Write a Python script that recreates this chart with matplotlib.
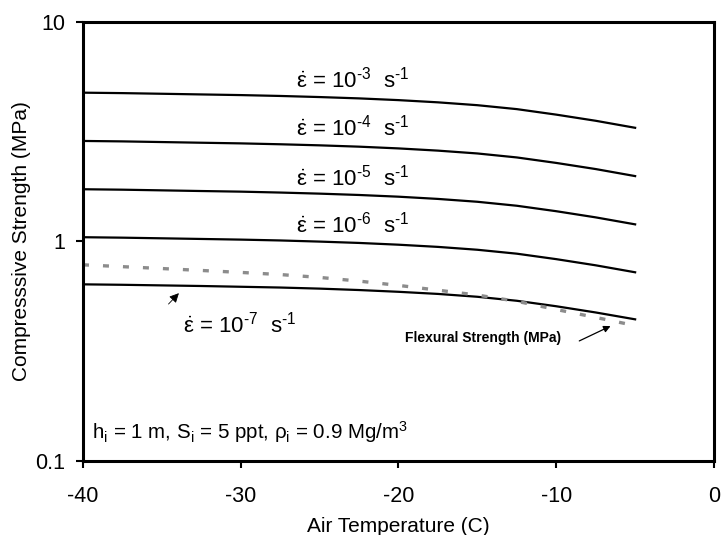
import matplotlib
matplotlib.use("Agg")
import matplotlib.pyplot as plt

plt.rcParams["font.family"] = "Liberation Sans"
plt.rcParams["mathtext.fontset"] = "custom"
plt.rcParams["mathtext.rm"] = "Liberation Sans"
plt.rcParams["mathtext.it"] = "Liberation Sans"
plt.rcParams["mathtext.bf"] = "Liberation Sans:bold"
plt.rcParams["axes.unicode_minus"] = False

# ---------------------------------------------------------------------------
# Data
# ---------------------------------------------------------------------------
temps = [-40, -37.5, -35, -32.5, -30, -27.5, -25, -22.5, -20, -17.5, -15,
         -12.5, -10, -7.5, -5]
strength_1e3 = [4.764, 4.742, 4.710, 4.677, 4.645, 4.603, 4.550, 4.487,
                4.406, 4.305, 4.178, 4.009, 3.784, 3.548, 3.296]
strength_1e4 = [2.871, 2.858, 2.838, 2.818, 2.799, 2.773, 2.742, 2.704,
                2.655, 2.594, 2.518, 2.415, 2.280, 2.138, 1.986]
strength_1e5 = [1.730, 1.722, 1.710, 1.698, 1.687, 1.671, 1.652, 1.629,
                1.600, 1.563, 1.517, 1.455, 1.374, 1.288, 1.197]
strength_1e6 = [1.046, 1.041, 1.034, 1.027, 1.020, 1.011, 0.999, 0.985,
                0.967, 0.945, 0.917, 0.880, 0.831, 0.779, 0.724]
strength_1e7 = [0.638, 0.635, 0.631, 0.627, 0.622, 0.617, 0.610, 0.601,
                0.590, 0.577, 0.560, 0.537, 0.507, 0.475, 0.442]

flex_temps = [-40, -37.5, -35, -32.5, -30, -27.5, -25, -22.5, -20, -17.5,
              -15, -12.5, -10, -7.5, -5.5]
flex_strength = [0.783, 0.768, 0.753, 0.738, 0.723, 0.707, 0.686, 0.660,
                 0.631, 0.600, 0.570, 0.534, 0.490, 0.451, 0.421]

rate_exps = [-3, -4, -5, -6]
rate_curves = [strength_1e3, strength_1e4, strength_1e5, strength_1e6]
rate_label_y = [5.45, 3.29, 1.95, 1.20]

x_ticks = [-40, -30, -20, -10, 0]
y_ticks = [0.1, 1, 10]
y_tick_labels = ["0.1", "1", "10"]


def rate_label(exp):
    return r"$\dot{\varepsilon}$ = 10$^{\text{%d}}$  s$^{\text{-1}}$" % exp


fig = plt.figure(figsize=(7.21, 5.35), dpi=100)
ax = fig.add_axes([0.1151, 0.1383, 0.8752, 0.8206])

for curve in rate_curves:
    ax.plot(temps, curve, color="black", linewidth=1.6)
ax.plot(temps, strength_1e7, color="black", linewidth=1.6)
ax.plot(flex_temps, flex_strength, color="#8c8c8c", linewidth=2.4,
        linestyle=(0, (1.8, 4.2)))

ax.set_yscale("log")
ax.set_xlim(-40, 0)
ax.set_ylim(0.1, 10)
ax.set_xticks(x_ticks)
ax.set_xticklabels([str(t) for t in x_ticks])
ax.set_yticks(y_ticks)
ax.set_yticklabels(y_tick_labels)
ax.yaxis.set_minor_locator(matplotlib.ticker.NullLocator())
ax.tick_params(axis="both", direction="out", length=5, width=1.5,
               labelsize=15.5)
ax.tick_params(axis="x", pad=13)
ax.tick_params(axis="y", pad=8)
for sp in ax.spines.values():
    sp.set_linewidth(2.2)

ax.set_xlabel("Air Temperature (C)", fontsize=15, labelpad=7)
ax.set_ylabel("Compresssive Strength (MPa)", fontsize=15, labelpad=3)

# strain-rate labels
for exp, ly in zip(rate_exps, rate_label_y):
    ax.text(-22.9, ly, rate_label(exp), ha="center", va="center", fontsize=16)

ax.text(-30.1, 0.417, rate_label(-7), ha="center", va="center", fontsize=16)
ax.annotate("", xy=(-33.8, 0.594), xytext=(-34.7, 0.508),
            arrowprops=dict(arrowstyle="-|>", color="black", lw=0.6,
                            mutation_scale=14))

ax.text(-14.65, 0.363, "Flexural Strength (MPa)", ha="center", va="center",
        fontsize=10, fontweight="bold")
ax.annotate("", xy=(-6.4, 0.417), xytext=(-8.7, 0.348),
            arrowprops=dict(arrowstyle="-|>", color="black", lw=0.9,
                            mutation_scale=10))

ax.text(-39.4, 0.1355,
        r"h$_\mathrm{i}$ = 1 m, S$_\mathrm{i}$ = 5 ppt, $\rho_\mathrm{i}$ = 0.9 Mg/m$^3$",
        ha="left", va="center", fontsize=14.8)

fig.savefig("out.png", dpi=100, facecolor="white")
